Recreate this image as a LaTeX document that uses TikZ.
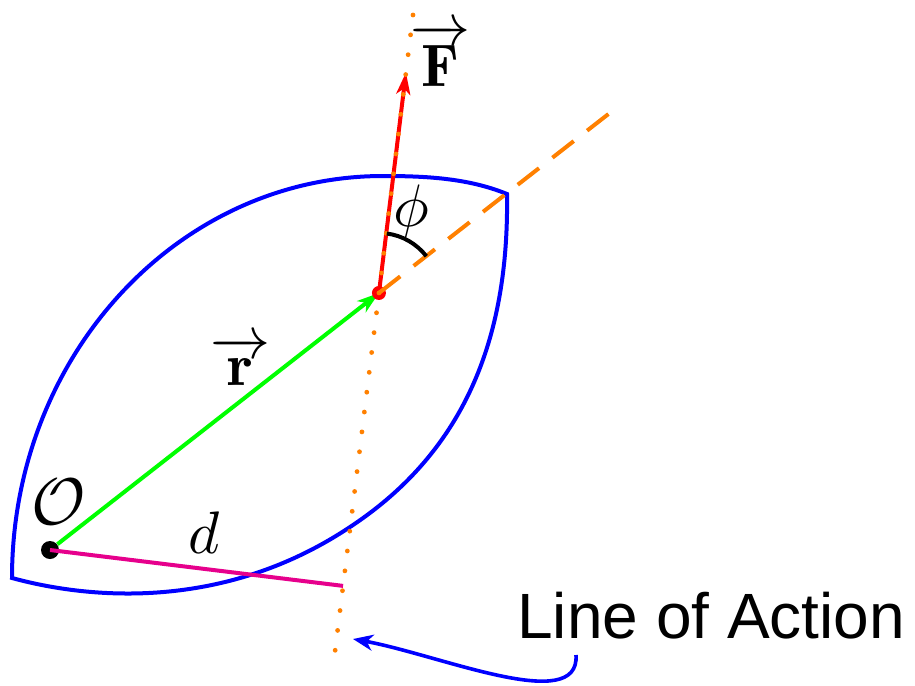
\documentclass[tikz,border=0pt]{standalone}
\usepackage{amsmath,amssymb}
\usepackage{fontspec}
\newfontfamily\loafont{Liberation Sans}
\usetikzlibrary{calc, arrows.meta}

\definecolor{lineorange}{RGB}{255,128,0}
\definecolor{distmagenta}{RGB}{230,0,140}

\tikzset{
    body/.style={draw=blue, line width=2pt},
    lbl/.style={scale=3, inner sep=0pt},
    vecarrow/.style={-{Stealth[length=11pt, width=7pt, inset=3pt]}, line width=2pt},
    pointer/.style={-{Stealth[length=10pt, width=8pt, inset=3pt]}, draw=blue, line width=1.8pt}
}

\begin{document}
\begin{tikzpicture}[x=0.5pt, y=-0.5pt]
    % Canvas (keeps the margins)
    \useasboundingbox (0,0) rectangle (915,685);

    % Key points
    \coordinate (A) at (413,15);              % top end of the line of action
    \coordinate (B) at (333,668);             % bottom end of the line of action
    \coordinate (P) at ($(A)!0.4257!(B)$);    % point where F acts
    \coordinate (Ftip) at ($(A)!0.088!(B)$);  % tip of F
    \coordinate (E) at (620,105);             % end of the extension of r
    \node[circle, fill=black, inner sep=0pt, minimum size=9pt] (O) at (50,550) {};
    \coordinate (D) at ($(A)!(O)!(B)$);       % foot of the lever arm

    % Rigid body
    \draw[body] (12,578) .. controls (12,356) and (178,176) .. (383,176)
        .. controls (425,176) and (468,178) .. (507,194)
        .. controls (509,330) and (470,448) .. (350,527)
        .. controls (230,607) and (100,602) .. cycle;

    % Position vector and lever arm
    \draw[vecarrow, green] (O) -- (P);
    \draw[line width=2pt, distmagenta] (O.center) -- (D);

    % Force
    \draw[vecarrow, red] (P) -- (Ftip);
    \fill[red] (P) circle (3.5pt);

    % Line of action and extension of r
    \draw[lineorange, line width=2.4pt, line cap=round, dash pattern=on 0pt off 10pt] (A) -- (B);
    \draw[lineorange, line width=2pt, dash pattern=on 13.5pt off 8.5pt] (P) -- (E);

    % Angle between r and F
    \draw[line width=2pt] (P) ++(-82.5:60) arc[start angle=-82.5, end angle=-37.8, radius=60];

    % Labels
    \node[lbl, scale=1.1] (Olbl) at (59,502) {$\mathcal{O}$};
    \node[lbl] (rlbl) at (240,361) {$\overrightarrow{\mathbf{r}}$};
    \node[lbl] (Flbl) at (440,55) {$\overrightarrow{\mathbf{F}}$};
    \node[lbl] (dlbl) at (204,533) {$d$};
    \node[lbl] (philbl) at (411,211) {$\phi$};

    % Caption with pointer
    \node[font=\loafont\fontsize{32}{38}\selectfont, inner sep=0pt, anchor=base west] (loa) at (517,638) {Line of Action};
    \coordinate (loastart) at ($(loa.base west)+(59,17)$);
    \coordinate (aim) at (353,639);
    \draw[pointer] (loastart) .. controls +(4,60) and +(87,16) .. (aim);
\end{tikzpicture}
\end{document}
